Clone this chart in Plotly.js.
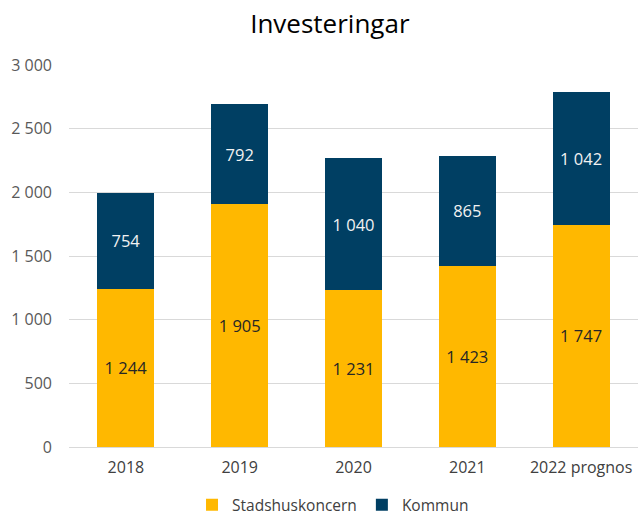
<!DOCTYPE html>
<html>
<head>
<meta charset="utf-8">
<script src="https://cdn.plot.ly/plotly-3.0.1.min.js"></script>
<style>html,body{margin:0;padding:0;background:#fff;}#chart{width:638px;height:517px;}</style>
</head>
<body>
<div id="chart"></div>
<script>
const categories = ["2018", "2019", "2020", "2021", "2022 prognos"];
const stadshuskoncern = [1244, 1905, 1231, 1423, 1747];
const kommun = [754, 792, 1040, 865, 1042];
const yTicks = [0, 500, 1000, 1500, 2000, 2500, 3000];

const font = "Open Sans, Noto Sans, sans-serif";
const data = [
  {
    type: "bar", name: "Stadshuskoncern", x: categories, y: stadshuskoncern,
    marker: {color: "#FFB800"},
    texttemplate: "%{y:,.0f}", textposition: "inside", insidetextanchor: "middle",
    textfont: {family: font, size: 16.5, color: "#262626"}, hoverinfo: "none"
  },
  {
    type: "bar", name: "Kommun", x: categories, y: kommun,
    marker: {color: "#003F63"},
    texttemplate: "%{y:,.0f}", textposition: "inside", insidetextanchor: "middle",
    textfont: {family: font, size: 16.5, color: "#F2F2F2"}, hoverinfo: "none"
  }
];
const layout = {
  width: 638, height: 517,
  barmode: "stack", bargap: 0.5,
  separators: ", ",
  font: {family: font, size: 16, color: "#595959"},
  title: {text: "Investeringar", x: 0.517, xanchor: "center", y: 0.953, yanchor: "middle",
          font: {family: font, size: 26, color: "#000000"}},
  margin: {l: 69, r: 0, t: 65, b: 70, autoexpand: false},
  xaxis: {type: "category", tickfont: {size: 16, color: "#404040"}, showgrid: false,
          showline: false, ticks: "", zeroline: false, ticklabelstandoff: 9},
  yaxis: {range: [0, 3000], tickvals: yTicks, tickformat: ",.0f",
          tickfont: {size: 16, color: "#595959"}, gridcolor: "#D9D9D9", gridwidth: 1,
          zeroline: true, zerolinecolor: "#D9D9D9", zerolinewidth: 1,
          ticks: "", showline: false, ticklabelstandoff: 16},
  showlegend: true,
  legend: {orientation: "h", x: 0.464, xanchor: "center", y: -0.108, yanchor: "top",
           font: {size: 15.5, color: "#404040"}, traceorder: "normal", itemwidth: 30},
  plot_bgcolor: "#fff", paper_bgcolor: "#fff"
};
Plotly.newPlot("chart", data, layout, {displayModeBar: false, staticPlot: true});
</script>
</body>
</html>
